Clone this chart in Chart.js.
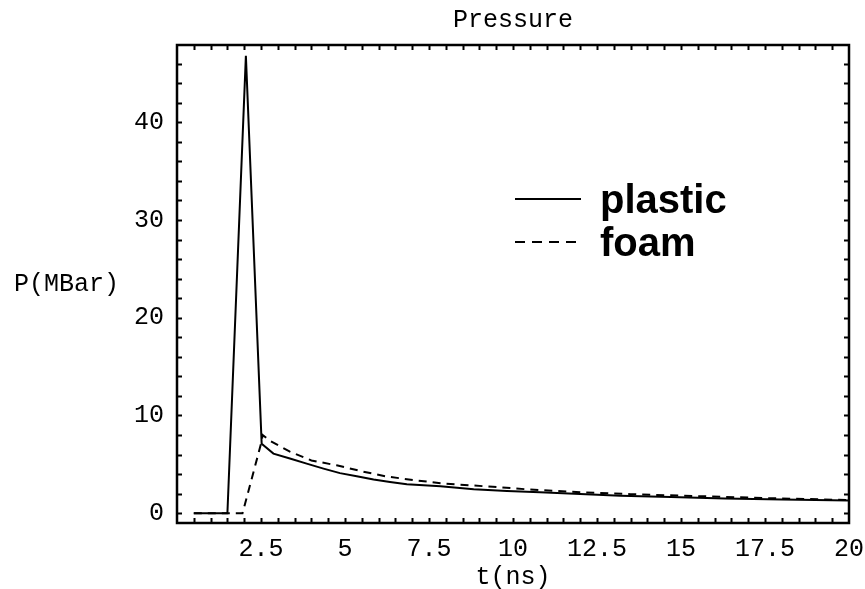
<!DOCTYPE html>
<html>
<head>
<meta charset="utf-8">
<script src="https://cdn.jsdelivr.net/npm/chart.js@4"></script>
<style>
  html, body { margin: 0; padding: 0; background: #fff; }
  #wrap { width: 865px; height: 589px; }
</style>
</head>
<body>
<div id="wrap"><canvas id="c" width="865" height="589"></canvas></div>
<script>
// data
const plasticT = [0.5, 1.5, 2.05, 2.52, 2.87, 3.36, 3.86, 4.36, 4.85, 5.35, 5.85, 6.34, 6.84, 7.84, 8.83, 9.82, 10.8, 12.0, 13.2, 14.7, 16.3, 18.0, 20.0];
const plasticP = [0, 0, 46.8, 7.1, 6.1, 5.6, 5.07, 4.56, 4.1, 3.78, 3.44, 3.2, 2.96, 2.76, 2.45, 2.28, 2.15, 1.97, 1.8, 1.65, 1.5, 1.4, 1.3];
const foamT = [0.5, 1.95, 2.5, 2.55, 2.77, 3.36, 4.0, 4.75, 5.55, 6.25, 7.14, 7.9, 9.4, 10.4, 12.0, 13.5, 15.0, 17.5, 20.0];
const foamP = [0, 0, 7.1, 8.0, 7.4, 6.3, 5.4, 4.9, 4.25, 3.75, 3.35, 3.05, 2.7, 2.45, 2.15, 1.95, 1.8, 1.55, 1.35];
const xMajor = [2.5, 5, 7.5, 10, 12.5, 15, 17.5, 20];
const yMajor = [0, 10, 20, 30, 40];
const legendItems = ["plastic", "foam"];

const monoFont = "'Liberation Mono', 'DejaVu Sans Mono', monospace";

const toPoints = (xs, ys) => xs.map((x, i) => ({ x: x, y: ys[i] }));

// ticks every 0.5 on x and every 2 on y, labels only on the majors
const minorTicks = (from, to, step) => {
  let out = [];
  for (let v = from; v <= to + 1e-9; v += step) out.push({ value: Math.round(v * 100) / 100 });
  return out;
};

// frame with inward ticks on all four sides, title over the plot area
const framePlugin = {
  id: "frame",
  afterDatasetsDraw(chart) {
    const ctx = chart.ctx;
    const a = chart.chartArea;
    const xs = chart.scales.x;
    const ys = chart.scales.y;
    ctx.save();
    ctx.strokeStyle = "#000";
    ctx.lineWidth = 2;
    ctx.beginPath();
    xs.ticks.forEach((t) => {
      if (t.value <= xs.min || t.value >= xs.max) return;
      const px = Math.round(xs.getPixelForValue(t.value)) + 0.5;
      ctx.moveTo(px, a.bottom);
      ctx.lineTo(px, a.bottom - 5);
      ctx.moveTo(px, a.top);
      ctx.lineTo(px, a.top + 5);
    });
    ys.ticks.forEach((t) => {
      if (t.value <= ys.min || t.value >= ys.max) return;
      const py = Math.round(ys.getPixelForValue(t.value)) + 0.5;
      ctx.moveTo(a.left, py);
      ctx.lineTo(a.left + 5, py);
      ctx.moveTo(a.right, py);
      ctx.lineTo(a.right - 5, py);
    });
    ctx.stroke();
    ctx.lineWidth = 2.5;
    ctx.strokeRect(a.left, a.top, a.right - a.left, a.bottom - a.top);
    ctx.fillStyle = "#000";
    ctx.font = "25px " + monoFont;
    ctx.textBaseline = "middle";
    ctx.textAlign = "center";
    ctx.fillText("Pressure", (a.left + a.right) / 2, 20);
    // horizontal y-axis label
    ctx.textAlign = "left";
    ctx.fillText("P(MBar)", 14, 284);
    ctx.restore();
  },
};

// legend drawn over the plot like in the picture
const legendPlugin = {
  id: "overLegend",
  afterDraw(chart) {
    const ctx = chart.ctx;
    ctx.save();
    ctx.strokeStyle = "#000";
    ctx.lineWidth = 2;
    legendItems.forEach((label, i) => {
      const y = 199 + i * 43;
      ctx.setLineDash(i === 0 ? [] : [10, 7]);
      ctx.beginPath();
      ctx.moveTo(515, y);
      ctx.lineTo(581, y);
      ctx.stroke();
    });
    ctx.setLineDash([]);
    ctx.fillStyle = "#000";
    ctx.font = "bold 40px 'Liberation Sans', Arial, sans-serif";
    ctx.textAlign = "left";
    ctx.textBaseline = "alphabetic";
    legendItems.forEach((label, i) => {
      ctx.fillText(label, 600, 213 + i * 43);
    });
    ctx.restore();
  },
};

new Chart(document.getElementById("c"), {
  type: "scatter",
  data: {
    datasets: [
      {
        label: legendItems[0],
        data: toPoints(plasticT, plasticP),
        showLine: true,
        borderColor: "#000",
        borderWidth: 2,
        pointRadius: 0,
        tension: 0,
      },
      {
        label: legendItems[1],
        data: toPoints(foamT, foamP),
        showLine: true,
        borderColor: "#000",
        borderWidth: 2,
        borderDash: [8, 6],
        pointRadius: 0,
        tension: 0,
      },
    ],
  },
  options: {
    responsive: false,
    animation: false,
    layout: { padding: { left: 0, right: 16, top: 45, bottom: 0 } },
    plugins: {
      legend: { display: false },
      tooltip: { enabled: false },
      title: { display: false },
    },
    scales: {
      x: {
        type: "linear",
        min: 0,
        max: 20,
        afterBuildTicks: (scale) => { scale.ticks = minorTicks(0, 20, 0.5); },
        afterFit: (scale) => {
          scale.height = 66;
          scale.paddingLeft = 0;
          scale.paddingRight = 0;
        },
        ticks: {
          autoSkip: false,
          maxRotation: 0,
          padding: 11,
          color: "#000",
          font: { family: monoFont, size: 25 },
          callback: (v) => (xMajor.includes(v) ? String(v) : ""),
        },
        grid: { display: true, drawOnChartArea: false, drawTicks: false },
        border: { display: false },
        title: {
          display: true,
          text: "t(ns)",
          color: "#000",
          font: { family: monoFont, size: 25, lineHeight: 1 },
          padding: { top: 0, bottom: -1 },
        },
      },
      y: {
        type: "linear",
        min: -1,
        max: 47.9,
        afterBuildTicks: (scale) => { scale.ticks = minorTicks(0, 46, 2); },
        afterFit: (scale) => {
          scale.width = 177;
          scale.paddingTop = 0;
          scale.paddingBottom = 0;
        },
        ticks: {
          autoSkip: false,
          padding: 13,
          color: "#000",
          font: { family: monoFont, size: 25 },
          callback: (v) => (yMajor.includes(v) ? String(v) : ""),
        },
        grid: { display: true, drawOnChartArea: false, drawTicks: false },
        border: { display: false },
      },
    },
  },
  plugins: [framePlugin, legendPlugin],
});
</script>
</body>
</html>
